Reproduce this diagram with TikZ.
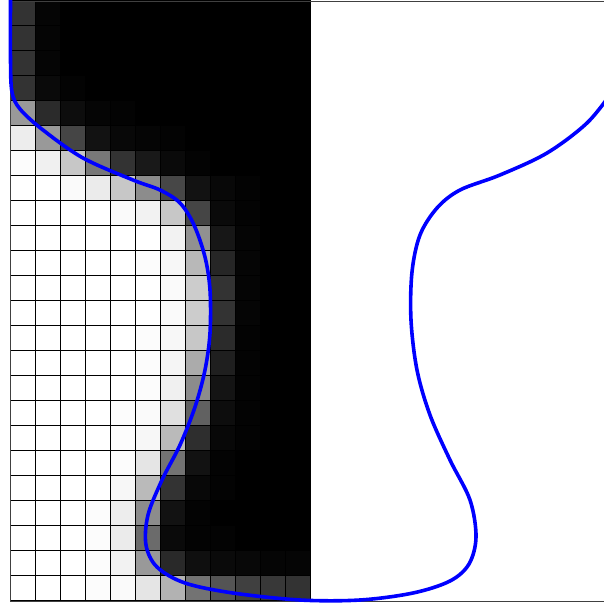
\documentclass[tikz,border=0pt]{standalone}
\tikzset{
  gridline/.style={line width=0.6pt, black},
  frameline/.style={line width=0.8pt, black!75},
  levelset/.style={line width=3.6pt, blue, line join=round},
}
\begin{document}
\begin{tikzpicture}[x=1pt,y=-1pt]
\useasboundingbox[fill=white] (0,0) rectangle (603,608);
% cells
\foreach \rowlist [count=\r from 0] in {
{20,2,0,0,0,0,0,0,0,0,0,0},
{20,2,0,0,0,0,0,0,0,0,0,0},
{20,2,0,0,0,0,0,0,0,0,0,0},
{20,4,1,0,0,0,0,0,0,0,0,0},
{60,17,5,2,1,0,0,0,0,0,0,0},
{93,60,27,7,3,2,1,0,0,0,0,0},
{99,94,78,47,20,10,4,1,0,0,0,0},
{100,100,98,92,78,55,28,7,3,1,0,0},
{100,100,100,100,98,95,78,27,4,1,0,0},
{100,100,100,100,100,100,95,57,9,2,0,0},
{100,100,100,100,100,99,97,72,15,2,0,0},
{100,100,100,100,100,100,98,80,20,2,0,0},
{100,100,100,100,100,100,98,80,20,2,0,0},
{100,100,100,100,100,99,97,78,17,1,0,0},
{100,100,100,100,100,99,96,67,12,1,0,0},
{100,100,100,100,100,99,94,55,8,1,0,0},
{100,100,100,100,99,98,88,38,5,1,0,0},
{100,100,100,100,99,97,73,18,3,1,0,0},
{100,100,100,100,99,90,45,7,1,0,0,0},
{100,100,100,100,97,73,20,3,1,0,0,0},
{100,100,100,99,93,55,7,1,0,0,0,0},
{100,100,100,99,92,42,4,1,1,0,0,0},
{100,100,100,99,95,60,16,6,4,3,2,2},
{100,100,100,99,98,90,70,45,33,25,22,20}}{
  \foreach \v [count=\c from 0] in \rowlist {
    \fill[white!\v!black] ({10+25*\c},{25*\r}) rectangle ++(25,25);
  }
}
% grid lines
\foreach \i in {0,...,12} { \draw[gridline] ({10+25*\i},0) -- ({10+25*\i},600); }
\foreach \j in {0,...,24} { \draw[gridline] (10,{25*\j}) -- (310,{25*\j}); }
% frame
\draw[frameline] (10,1) -- (615,1);
\draw[frameline] (10,1) -- (10,601) -- (615,601);
% level-set curve
\draw[levelset] plot[smooth, tension=0.55] coordinates {
(10.5,0) (10.5,60) (12,92) (20,109) (43,130) (83,158) (133,180) (160,190)
(180,203) (194,225) (205,257) (210,290) (210,333) (205,370) (195,407)
(180,445) (162,480) (148,515) (146,545) (157,567) (185,583) (233,593)
(300,600) (360,600) (413,593) (450,581) (469,564) (476,537) (470,500)
(450,460) (430,415) (417,370) (411,320) (412,272) (420,235) (437,208)
(460,190) (500,175) (547,153) (587,123) (612,92)};
\end{tikzpicture}
\end{document}
